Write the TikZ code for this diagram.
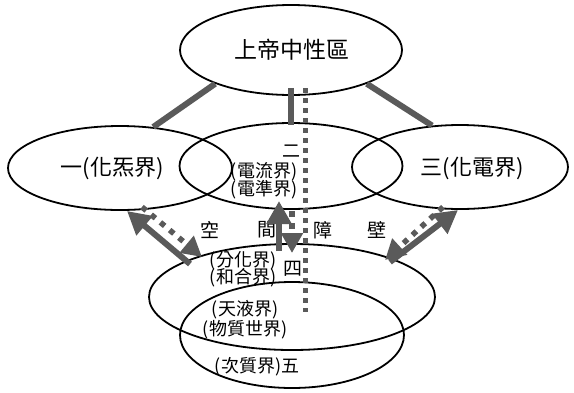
\documentclass[tikz,border=0pt]{standalone}
\usepackage{fontspec}
\setmainfont{Noto Sans CJK TC}
\usetikzlibrary{arrows.meta,shapes.geometric}
\definecolor{ag}{RGB}{90,90,90}
\begin{document}
\begin{tikzpicture}[x=1pt,y=-1pt,
  ell/.style={draw=black,line width=1.8pt,ellipse,inner sep=0pt},
  lbl/.style={inner sep=0pt,font=\fontsize{18pt}{19pt}\selectfont},
  big/.style={inner sep=0pt,font=\fontsize{22pt}{23pt}\selectfont},
  bar/.style={draw=ag,line width=6pt},
  sarrow/.style={draw=ag,line width=6pt,-{Triangle[width=24pt,length=23pt]}},
  darrow/.style={draw=ag,line width=5.5pt,dash pattern=on 5.5pt off 6.5pt,-{Triangle[width=21pt,length=20pt]}},
  vdots/.style={draw=ag,line width=5pt,dash pattern=on 5pt off 5pt}]
\useasboundingbox (0,0) rectangle (574,392);
% ellipses
\node[ell,minimum width=222pt,minimum height=90pt] (top) at (291,50) {};
\node[ell,minimum width=224pt,minimum height=84pt] (left) at (120,168) {};
\node[ell,minimum width=223pt,minimum height=86pt] (mid) at (291,166) {};
\node[ell,minimum width=216pt,minimum height=84pt] (right) at (460,167) {};
\node[ell,minimum width=286pt,minimum height=106pt] (four) at (292,297) {};
\node[ell,minimum width=224pt,minimum height=106pt] (five) at (292,335) {};
% texts
\node[big,font=\fontsize{23pt}{24pt}\selectfont] (ttop) at (292,50) {上帝中性區};
\node[big] (tleft) at (112,168) {一(化炁界)};
\node[big] (tright) at (472,168) {三(化電界)};
\node[lbl] (ttwo) at (291,151) {二};
\node[lbl] (tt1) at (264,172) {(電流界)};
\node[lbl] (tt2) at (264,190) {(電準界)};
\node[lbl,font=\fontsize{19pt}{20pt}\selectfont] (kong) at (210,230) {空};
\node[lbl,font=\fontsize{19pt}{20pt}\selectfont] (jian) at (267,230) {間};
\node[lbl,font=\fontsize{19pt}{20pt}\selectfont] (zhang) at (323,230) {障};
\node[lbl,font=\fontsize{19pt}{20pt}\selectfont] (bi) at (377,230) {壁};
\node[lbl] (tf1) at (243,261) {(分化界)};
\node[lbl] (tf2) at (243,278) {(和合界)};
\node[lbl,font=\fontsize{19pt}{20pt}\selectfont] (tfour) at (293,269) {四};
\node[lbl] (tv1) at (245,310) {(天液界)};
\node[lbl] (tv2) at (245,330) {(物質世界)};
\node[lbl] (tv3) at (257,367) {(次質界)五};
% coordinates
\coordinate (vtop) at (305,88);
\coordinate (vbot) at (305,312);
\coordinate (ls1) at (190,264);
\coordinate (ls2) at (127,211);
\coordinate (ld1) at (142,207);
\coordinate (ld2) at (202,257);
\coordinate (rs1) at (390,262);
\coordinate (rs2) at (458,210);
\coordinate (rd1) at (443,207);
\coordinate (rd2) at (385,260);
\coordinate (ms1) at (279,251);
\coordinate (ms2) at (279,201);
\coordinate (md1) at (292,211);
\coordinate (md2) at (292,253);
% connectors
\draw[bar] (top.204) -- (left.51);
\draw[bar] (top.336) -- (right.124);
\draw[bar,shorten <=-8pt,shorten >=-3pt] (top.south) -- (mid.north);
\draw[vdots] (vtop) -- (vbot);
\draw[sarrow] (ls1) -- (ls2);
\draw[darrow] (ld1) -- (ld2);
\draw[sarrow] (rs1) -- (rs2);
\draw[darrow] (rd1) -- (rd2);
\draw[sarrow] (ms1) -- (ms2);
\draw[darrow] (md1) -- (md2);
\end{tikzpicture}
\end{document}
